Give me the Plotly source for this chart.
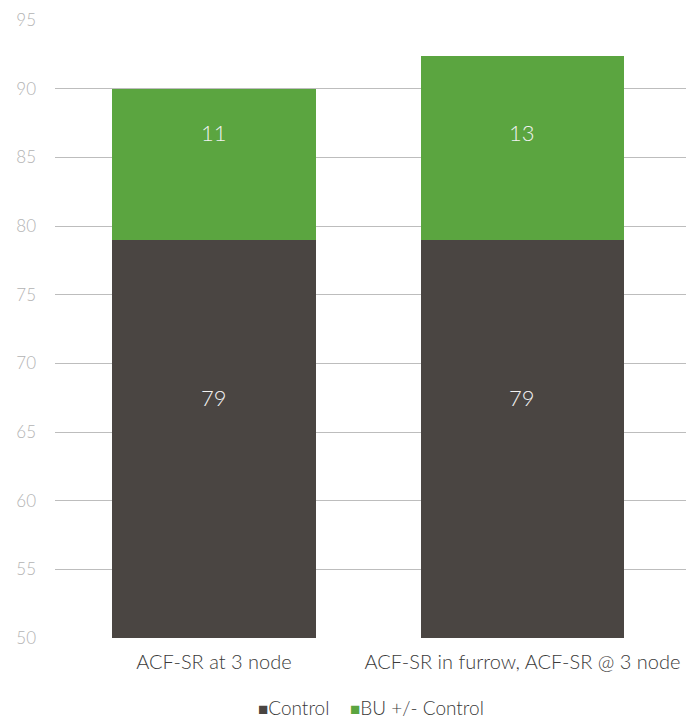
import plotly.graph_objects as go

categories = ["ACF-SR at 3 node", "ACF-SR in furrow, ACF-SR @ 3 node"]
control = [79.0, 79.0]
bu_vs_control = [11.0, 13.4]
y_ticks = [50, 55, 60, 65, 70, 75, 80, 85, 90, 95]
series_names = ["Control", "BU +/- Control"]

FONT = "Lato"
DARK = "#4a4542"
GREEN = "#5ba540"
colors = [DARK, GREEN]

fig = go.Figure()
fig.add_trace(go.Bar(x=categories, y=control, name=series_names[0], marker_color=DARK,
                     marker_line_width=0, hoverinfo="skip", showlegend=False))
fig.add_trace(go.Bar(x=categories, y=bu_vs_control, name=series_names[1], marker_color=GREEN,
                     marker_line_width=0, hoverinfo="skip", showlegend=False))

# value labels (text from data; vertical placement as in the reference)
LABEL_Y_CONTROL = 67.5
LABEL_Y_BU = 86.8
for c, v in zip(categories, control):
    fig.add_annotation(x=c, y=LABEL_Y_CONTROL, text=f"{v:.0f}", showarrow=False,
                       font=dict(family=FONT, size=22, color="#f2f2f2", weight=300))
for c, v in zip(categories, bu_vs_control):
    fig.add_annotation(x=c, y=LABEL_Y_BU, text=f"{v:.0f}", showarrow=False,
                       font=dict(family=FONT, size=22, color="#f2f2f2", weight=300))

# legend built from the series names, compact squares as in the reference
legend_text = "&nbsp;&nbsp;&nbsp;&nbsp;".join(
    f"<span style='color:{col};font-size:17px'>■</span>{name}"
    for name, col in zip(series_names, colors))
fig.add_annotation(xref="paper", yref="paper", x=0.50, y=-0.113, xanchor="center",
                   yanchor="middle", text=legend_text, showarrow=False,
                   font=dict(family=FONT, size=19, color="#3a3a3a", weight=300))

fig.update_layout(
    width=686, height=720,
    barmode="stack", bargap=0.34,
    plot_bgcolor="white", paper_bgcolor="white",
    margin=dict(l=55, r=0, t=20, b=82, autoexpand=False),
    font=dict(family=FONT, weight=300),
    showlegend=False,
)
fig.update_yaxes(range=[50, 95], tickvals=y_ticks, showgrid=True, gridcolor="#bdbdbd",
                 gridwidth=1, zeroline=False, showline=False, ticks="",
                 ticklabelstandoff=18, layer="above traces",
                 tickfont=dict(family=FONT, size=17, color="#b3b3b3", weight=300))
fig.update_xaxes(range=[-0.515, 1.53], showgrid=False, showline=False, ticks="",
                 ticklabelstandoff=10,
                 tickfont=dict(family=FONT, size=20, color="#3a3a3a", weight=300))

fig.write_html("out.html", config={"displayModeBar": False},
               post_script="document.body.style.margin='0';document.body.style.overflow='hidden';")
